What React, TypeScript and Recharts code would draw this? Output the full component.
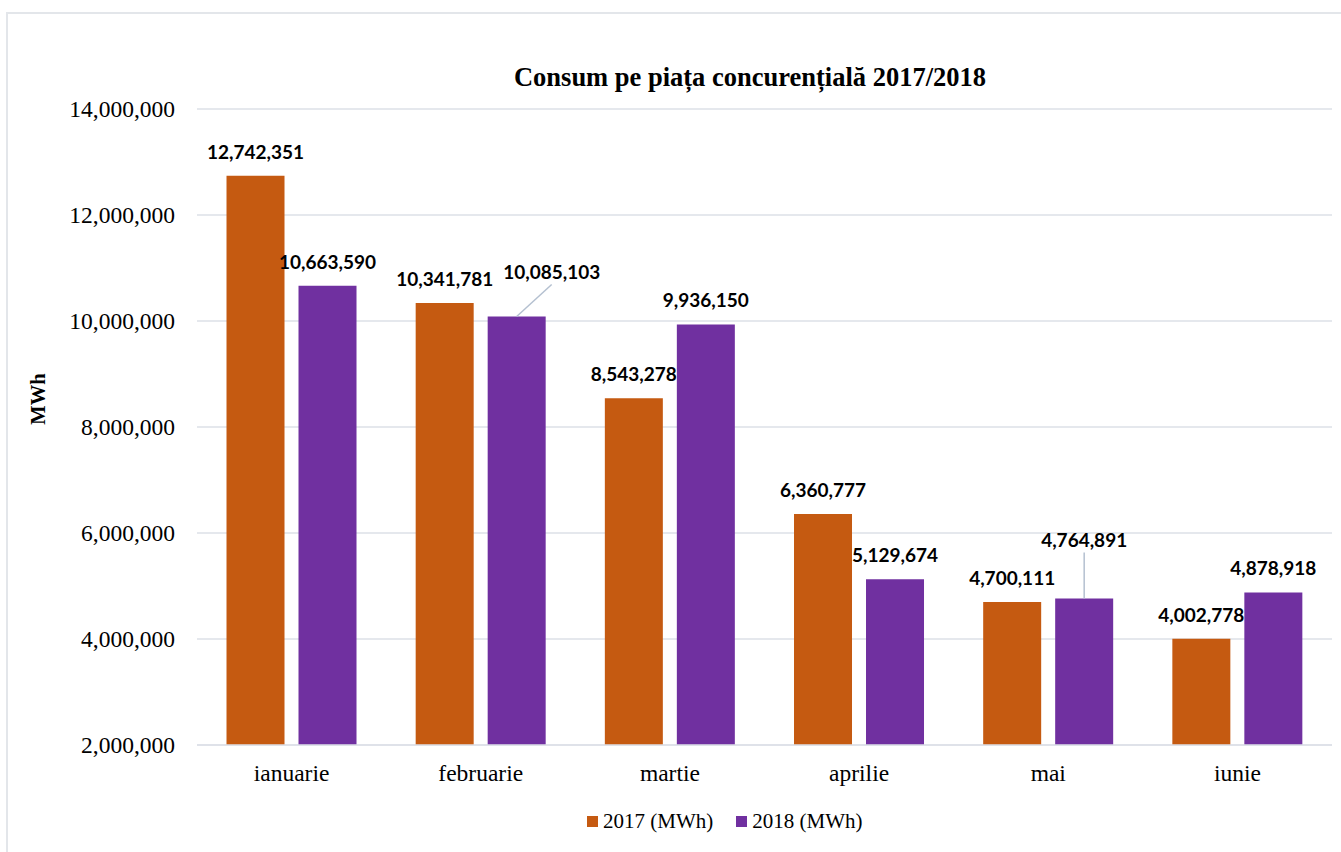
import { BarChart, Bar, XAxis, YAxis, CartesianGrid, LabelList, Legend } from "recharts"

const months = ["ianuarie", "februarie", "martie", "aprilie", "mai", "iunie"]
const consum2017 = [12742351, 10341781, 8543278, 6360777, 4700111, 4002778]
const consum2018 = [10663590, 10085103, 9936150, 5129674, 4764891, 4878918]
const yTicks = [2000000, 4000000, 6000000, 8000000, 10000000, 12000000, 14000000]

const ORANGE = "#C55A11"
const PURPLE = "#7030A0"
const GRID = "#DDE1E7"
const SERIF = "'Liberation Serif', 'Times New Roman', serif"

const data = months.map((m, i) => ({ month: m, v2017: consum2017[i], v2018: consum2018[i] }))

// labels that Excel moved away from the bar (with a leader line)
const moved2018: Record<number, { dx: number; dy: number }> = {
  1: { dx: 35, dy: -20 },
  4: { dx: 0, dy: -34 },
}

const fmt = (v: number) => v.toLocaleString("en-US")

function makeLabel(moved: Record<number, { dx: number; dy: number }>) {
  return (props: any) => {
    const { x, y, width, value, index } = props
    const cx = Number(x) + Number(width) / 2
    const top = Number(y)
    const m = moved[index] || { dx: 0, dy: 0 }
    const lx = cx + m.dx
    const ly = top - 17 + m.dy
    return (
      <g>
        {(m.dx !== 0 || m.dy !== 0) && (
          <line x1={cx} y1={top} x2={lx} y2={ly + 5} stroke="#B4C0D0" strokeWidth={1.5} />
        )}
        <text
          x={lx}
          y={ly}
          textAnchor="middle"
          style={{ fontFamily: "Lato, 'Open Sans', sans-serif", fontWeight: 700, fontSize: 19 }}
          fill="#000"
        >
          {fmt(Number(value))}
        </text>
      </g>
    )
  }
}

function AxisTick(props: any) {
  const { x, y, payload, anchor, formatter } = props
  const label = formatter ? formatter(payload.value) : payload.value
  return (
    <text
      x={x}
      y={y}
      dy={anchor === "end" ? 8 : 16}
      textAnchor={anchor}
      fill="#000"
      style={{ fontFamily: SERIF, fontSize: 23.5 }}
    >
      {label}
    </text>
  )
}

function LegendBox() {
  const items = [
    { name: "2017 (MWh)", color: ORANGE },
    { name: "2018 (MWh)", color: PURPLE },
  ]
  return (
    <div style={{ display: "flex", gap: 23, fontFamily: SERIF, fontSize: 21 }}>
      {items.map((it) => (
        <div key={it.name} style={{ display: "flex", alignItems: "center", gap: 5 }}>
          <span style={{ width: 11, height: 11, background: it.color, display: "inline-block" }} />
          <span>{it.name}</span>
        </div>
      ))}
    </div>
  )
}

export default function App() {
  return (
    <div style={{ position: "fixed", left: 0, top: 0, width: 1341, height: 852, overflow: "hidden", background: "#fff" }}>
      <div
        style={{
          position: "absolute",
          left: 6,
          top: 12,
          width: 1400,
          height: 900,
          border: "2px solid #E3E6EA",
        }}
      />
      <div
        style={{
          position: "absolute",
          left: 0,
          width: 1500,
          top: 62,
          textAlign: "center",
          fontFamily: SERIF,
          fontWeight: 700,
          fontSize: 26.5,
        }}
      >
        Consum pe piața concurențială 2017/2018
      </div>
      <div
        style={{
          position: "absolute",
          left: 38,
          top: 399,
          transform: "translate(-50%, -50%) rotate(-90deg)",
          fontFamily: SERIF,
          fontWeight: 700,
          fontSize: 20.5,
          lineHeight: 1,
        }}
      >
        MWh
      </div>
      <div style={{ position: "absolute", left: 0, top: 0 }}>
        <BarChart
          width={1341}
          height={852}
          data={data}
          margin={{ top: 109, right: 9, left: 47, bottom: 30 }}
          barGap={14}
          barCategoryGap="15.6%"
        >
          <CartesianGrid vertical={false} stroke={GRID} strokeWidth={1.5} />
          <XAxis
            dataKey="month"
            axisLine={{ stroke: GRID, strokeWidth: 1.5 }}
            tickLine={false}
            tickSize={0}
            tickMargin={20}
            height={52}
            tick={<AxisTick anchor="middle" />}
          />
          <YAxis
            width={150}
            domain={[2000000, 14000000]}
            ticks={yTicks}
            axisLine={false}
            tickLine={false}
            tickSize={0}
            tickMargin={22}
            tick={<AxisTick anchor="end" formatter={fmt} />}
          />
          <Legend
            verticalAlign="bottom"
            content={() => <LegendBox />}
            wrapperStyle={{ left: 587, width: "auto", bottom: 18 }}
          />
          <Bar dataKey="v2017" name="2017 (MWh)" fill={ORANGE} isAnimationActive={false}>
            <LabelList dataKey="v2017" content={makeLabel({})} />
          </Bar>
          <Bar dataKey="v2018" name="2018 (MWh)" fill={PURPLE} isAnimationActive={false}>
            <LabelList dataKey="v2018" content={makeLabel(moved2018)} />
          </Bar>
        </BarChart>
      </div>
    </div>
  )
}
